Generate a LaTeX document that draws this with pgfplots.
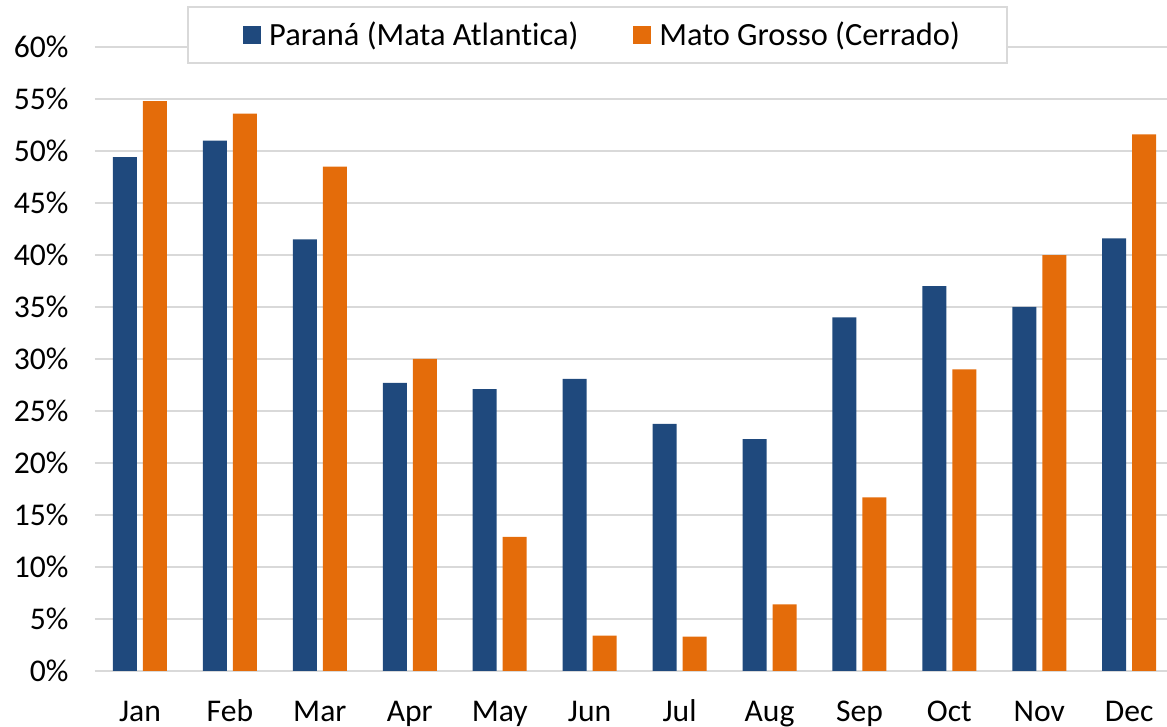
\documentclass[border=0pt]{standalone}
\usepackage{fontspec}
\setmainfont{Carlito}[Ligatures=NoCommon]
\usepackage{pgfplots}
\pgfplotsset{compat=1.18}
\definecolor{parana}{RGB}{31,73,125}
\definecolor{mato}{RGB}{228,108,10}
\definecolor{gridgray}{RGB}{217,217,217}
\newcommand{\lblfont}{\fontsize{15.8}{19}\selectfont}
\newcommand{\legfont}{\fontsize{16.2}{19}\selectfont}

\begin{document}
\begin{tikzpicture}
\begin{axis}[
  scale only axis,
  width=536pt, height=312pt,
  ybar=3pt, bar width=12pt,
  xmin=-0.5, xmax=11.42,
  ymin=0, ymax=60,
  xtick={0,...,11},
  xticklabels={Jan,Feb,Mar,Apr,May,Jun,Jul,Aug,Sep,Oct,Nov,Dec},
  ytick={0,5,...,60},
  yticklabel={\pgfmathprintnumber{\tick}\%},
  /pgf/number format/assume math mode=true,
  major tick length=0pt,
  ymajorgrids, grid style={gridgray, line width=1pt},
  axis x line*=bottom, axis y line*=left,
  y axis line style={draw=none},
  x axis line style={gridgray, line width=1pt, -},
  yticklabel style={font=\lblfont, xshift=-9.7pt},
  xticklabel style={font=\lblfont, text height=11pt, text depth=3pt, yshift=-10.5pt},
  legend style={at={(0.4688,1.0192)}, anchor=center, draw=gridgray, line width=1pt,
    fill=white, font=\legfont, inner xsep=21.5pt, inner ysep=5.5pt,
    /tikz/every even column/.append style={column sep=19.5pt}},
  legend columns=2, legend cell align=left,
  legend image code/.code={\fill[#1, draw=none] (0pt,-4.5pt) rectangle (9pt,4.5pt);
    \path (-6pt,0pt) (11pt,0pt);},
]
\addplot[fill=parana, draw=none] coordinates {
  (0,49.4) (1,51.0) (2,41.5) (3,27.7) (4,27.1) (5,28.1)
  (6,23.75) (7,22.3) (8,34.0) (9,37.0) (10,35.0) (11,41.6)};
\addplot[fill=mato, draw=none] coordinates {
  (0,54.8) (1,53.6) (2,48.5) (3,30.0) (4,12.9) (5,3.4)
  (6,3.3) (7,6.4) (8,16.7) (9,29.0) (10,40.0) (11,51.6)};
\legend{Paraná (Mata Atlantica), Mato Grosso (Cerrado)}
\coordinate (bl) at (rel axis cs:0,0);
\coordinate (tr) at (rel axis cs:1,1);
\end{axis}
\pgfresetboundingbox
\path ([shift={(-47.5pt,-28pt)}]bl) rectangle ([shift={(0pt,23.5pt)}]tr);
\end{tikzpicture}
\end{document}
